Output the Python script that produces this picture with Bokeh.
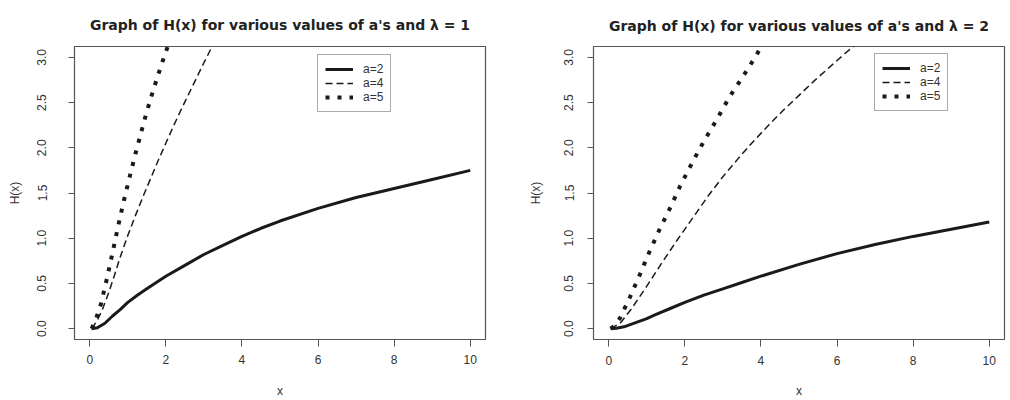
from bokeh.plotting import figure
from bokeh.models import Range1d, FixedTicker, PrintfTickFormatter, Legend, LegendItem
from bokeh.layouts import row
from bokeh.embed import file_html
from bokeh.resources import INLINE

# lambda = 1
l1_a2_x = [0.05, 0.2, 0.4, 0.6, 0.8, 1.0, 1.25, 1.5, 1.75, 2.0, 2.5, 3.0, 3.5, 4.0, 4.5, 5.0,
           6.0, 7.0, 8.0, 9.0, 10.0]
l1_a2_y = [0.0, 0.01, 0.06, 0.14, 0.21, 0.29, 0.37, 0.44, 0.51, 0.58, 0.70, 0.82, 0.92, 1.02,
           1.11, 1.19, 1.33, 1.45, 1.55, 1.65, 1.75]
l1_a4_x = [0.05, 0.2, 0.35, 0.5, 0.65, 0.8, 1.0, 1.2, 1.4, 1.6, 1.8, 2.0, 2.2, 2.4, 2.7, 3.0, 3.3]
l1_a4_y = [0.0, 0.09, 0.23, 0.40, 0.59, 0.79, 1.03, 1.25, 1.46, 1.66, 1.86, 2.05, 2.24, 2.42,
           2.68, 2.94, 3.19]
l1_a5_x = [0.05, 0.15, 0.3, 0.45, 0.6, 0.75, 0.9, 1.05, 1.2, 1.35, 1.5, 1.65, 1.8, 1.95, 2.1]
l1_a5_y = [0.0, 0.09, 0.28, 0.55, 0.84, 1.14, 1.42, 1.68, 1.93, 2.17, 2.40, 2.61, 2.81, 3.00, 3.18]

# lambda = 2
l2_a2_x = [0.05, 0.2, 0.4, 0.6, 0.8, 1.0, 1.2, 1.6, 2.0, 2.5, 3.0, 3.5, 4.0, 5.0, 6.0, 7.0,
           8.0, 9.0, 10.0]
l2_a2_y = [0.0, 0.005, 0.02, 0.05, 0.08, 0.11, 0.15, 0.22, 0.29, 0.37, 0.44, 0.51, 0.58, 0.71,
           0.83, 0.93, 1.02, 1.10, 1.18]
l2_a4_x = [0.05, 0.3, 0.6, 1.0, 1.4, 1.8, 2.2, 2.6, 3.0, 3.4, 3.8, 4.2, 4.6, 5.0, 5.4, 5.8, 6.2, 6.6]
l2_a4_y = [0.0, 0.06, 0.22, 0.47, 0.73, 0.98, 1.22, 1.46, 1.68, 1.88, 2.07, 2.25, 2.42, 2.58,
           2.74, 2.89, 3.04, 3.18]
l2_a5_x = [0.05, 0.15, 0.3, 0.56, 0.82, 1.07, 1.34, 1.62, 1.88, 2.2, 2.51, 2.85, 3.17, 3.53, 3.89, 4.0]
l2_a5_y = [0.0, 0.03, 0.12, 0.35, 0.60, 0.85, 1.10, 1.34, 1.58, 1.84, 2.08, 2.32, 2.56, 2.79, 3.03, 3.12]

x_ticks = [0, 2, 4, 6, 8, 10]
y_ticks = [0.0, 0.5, 1.0, 1.5, 2.0, 2.5, 3.0]
labels = ["a=2", "a=4", "a=5"]
titles = ["Graph of H(x) for various values of a's and \u03bb = 1",
          "Graph of H(x) for various values of a's and \u03bb = 2"]

INK = "#1a1a1a"
TXT = "#333333"
FONT = "Liberation Sans"


def panel(title, curves, left, right, top, bottom, title_gap, ylab_stand, yaxis_stand,
          xlab_stand, xaxis_stand, legend_loc):
    p = figure(width=505, height=400, output_backend="svg", toolbar_location=None,
               x_range=Range1d(-0.4, 10.4), y_range=Range1d(-0.12, 3.12),
               min_border_left=left, min_border_right=right,
               min_border_top=top, min_border_bottom=bottom)
    p.title.text = title
    p.title.align = "center"
    p.title.text_font = "DejaVu Sans"
    p.title.text_font_size = "14px"
    p.title.text_font_style = "bold"
    p.title.text_color = "#222222"
    p.title.standoff = title_gap
    p.grid.visible = False
    p.outline_line_color = "#555555"
    p.outline_line_width = 1.2
    p.background_fill_color = "white"
    p.border_fill_color = "white"

    for ax in (p.xaxis[0], p.yaxis[0]):
        ax.axis_line_color = None
        ax.major_tick_line_color = "#555555"
        ax.major_tick_in = 0
        ax.major_tick_out = 7
        ax.minor_tick_line_color = None
        ax.major_label_text_font = FONT
        ax.major_label_text_font_size = "12px"
        ax.major_label_text_color = TXT
        ax.axis_label_text_font = FONT
        ax.axis_label_text_font_size = "12px"
        ax.axis_label_text_font_style = "normal"
        ax.axis_label_text_color = TXT

    p.xaxis.ticker = FixedTicker(ticks=x_ticks)
    p.xaxis.axis_label = "x"
    p.xaxis.major_label_standoff = xlab_stand
    p.xaxis.axis_label_standoff = xaxis_stand

    p.yaxis.ticker = FixedTicker(ticks=y_ticks)
    p.yaxis.formatter = PrintfTickFormatter(format="%.1f")
    p.yaxis.major_label_orientation = "vertical"
    p.yaxis.major_tick_out = 6
    p.yaxis.axis_label = "H(x)"
    p.yaxis.major_label_standoff = ylab_stand
    p.yaxis.axis_label_standoff = yaxis_stand

    (x2, y2), (x4, y4), (x5, y5) = curves
    r2 = p.line(x2, y2, line_color=INK, line_width=3, line_join="round")
    r4 = p.line(x4, y4, line_color=INK, line_width=1.5, line_dash="7 4")
    r5 = p.line(x5, y5, line_color=INK, line_width=4, line_dash="4 8")

    legend = Legend(items=[LegendItem(label=labels[0], renderers=[r2]),
                           LegendItem(label=labels[1], renderers=[r4]),
                           LegendItem(label=labels[2], renderers=[r5])],
                    location=legend_loc)
    legend.label_text_font = FONT
    legend.label_text_font_size = "12px"
    legend.label_text_color = TXT
    legend.label_height = 12
    legend.glyph_height = 12
    legend.glyph_width = 28
    legend.label_standoff = 10
    legend.spacing = 0
    legend.padding = 7
    legend.margin = 0
    legend.border_line_color = "#555555"
    legend.border_line_width = 1
    legend.background_fill_alpha = 1.0
    p.add_layout(legend)
    return p


p1 = panel(titles[0],
           [(l1_a2_x, l1_a2_y), (l1_a4_x, l1_a4_y), (l1_a5_x, l1_a5_y)],
           left=74, right=20, top=46, bottom=57, title_gap=28,
           ylab_stand=22, yaxis_stand=13, xlab_stand=8, xaxis_stand=17,
           legend_loc=(243, 227))
p2 = panel(titles[1],
           [(l2_a2_x, l2_a2_y), (l2_a4_x, l2_a4_y), (l2_a5_x, l2_a5_y)],
           left=88, right=6, top=44, bottom=59, title_gap=26,
           ylab_stand=14, yaxis_stand=19, xlab_stand=9, xaxis_stand=16,
           legend_loc=(281, 228))

layout = row(p1, p2)
open("out.html", "w").write(file_html(layout, INLINE))
